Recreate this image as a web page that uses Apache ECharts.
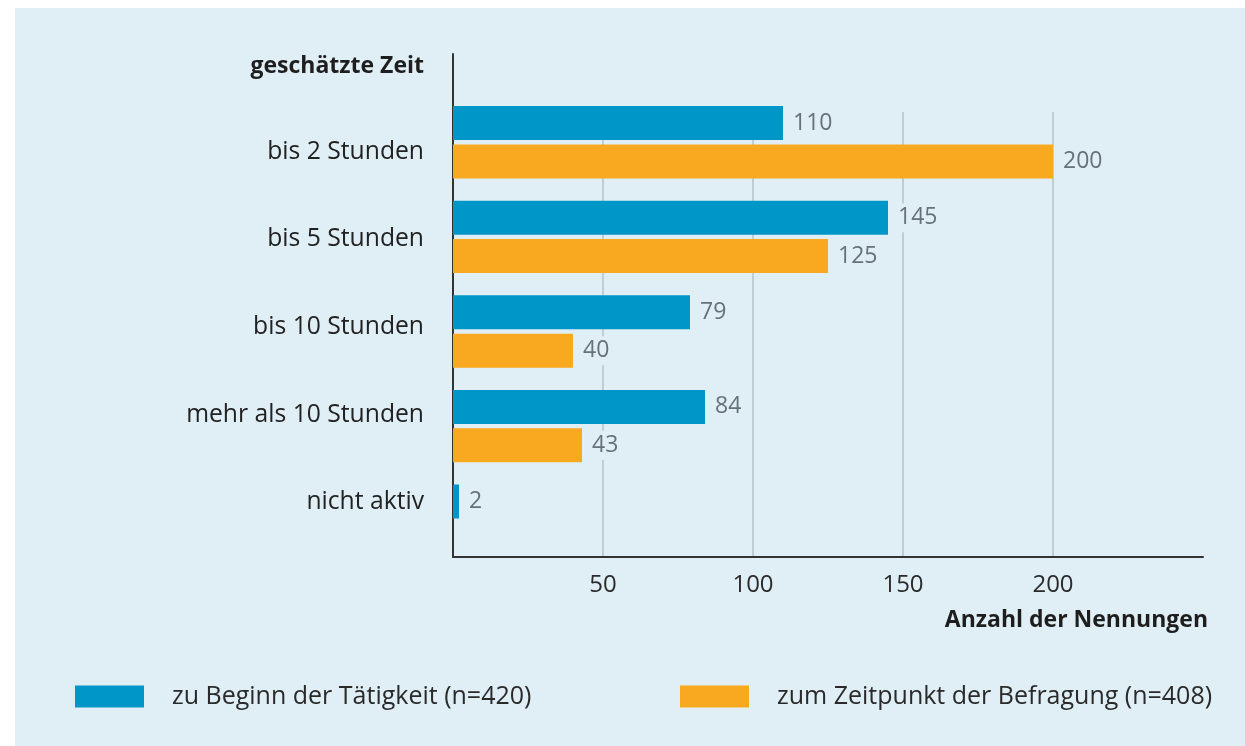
<!DOCTYPE html>
<html>
<head>
<meta charset="utf-8">
<script src="https://cdn.jsdelivr.net/npm/echarts@6/dist/echarts.min.js"></script>
<style>
html,body{margin:0;padding:0;background:#ffffff;}
#bg{position:absolute;left:15px;top:8px;width:1230px;height:738px;background:#e0eff6;}
#chart{position:absolute;left:0;top:0;width:1245px;height:746px;}
</style>
</head>
<body>
<div id="bg"></div>
<div id="chart"></div>
<script>
const categories = ['bis 2 Stunden', 'bis 5 Stunden', 'bis 10 Stunden', 'mehr als 10 Stunden', 'nicht aktiv'];
const seriesNames = ['zu Beginn der Tätigkeit (n=420)', 'zum Zeitpunkt der Befragung (n=408)'];
const beginnValues = [110, 145, 79, 84, 2];
const befragungValues = [200, 125, 40, 43, null];
const xTicks = [50, 100, 150, 200];
const headerText = 'geschätzte Zeit';
const axisTitle = 'Anzahl der Nennungen';

const BG = '#e0eff6';
const FONT = "'Open Sans', 'Noto Sans', sans-serif";
const BLUE = '#0096c8';
const ORANGE = '#f9a91f';

const chart = echarts.init(document.getElementById('chart'), null, {renderer: 'canvas'});

function barLabel() {
  return {
    show: true, position: 'right', distance: 7,
    fontFamily: FONT, fontSize: 23, color: '#66717a',
    backgroundColor: BG, padding: [3, 3]
  };
}

const option = {
  backgroundColor: 'transparent',
  animation: false,
  textStyle: {fontFamily: FONT},
  title: [
    {text: headerText, right: 816, top: 50,
     textStyle: {fontFamily: FONT, fontSize: 23, fontWeight: 'bold', color: '#1e1e1e'}},
    {text: axisTitle, right: 32, top: 604,
     textStyle: {fontFamily: FONT, fontSize: 23, fontWeight: 'bold', color: '#1e1e1e'}}
  ],
  legend: [
    {data: [seriesNames[0]], left: 70, top: 679, itemWidth: 69, itemHeight: 22, icon: 'rect',
     selectedMode: false,
     textStyle: {fontFamily: FONT, fontSize: 25, color: '#2a2a2a', padding: [0, 0, 0, 23]}},
    {data: [seriesNames[1]], left: 675, top: 679, itemWidth: 69, itemHeight: 22, icon: 'rect',
     selectedMode: false,
     textStyle: {fontFamily: FONT, fontSize: 25, color: '#2a2a2a', padding: [0, 0, 0, 23]}}
  ],
  grid: [
    {left: 453, top: 54, width: 750, height: 503},   // axis lines + tick labels
    {left: 453, top: 112, width: 750, height: 445},  // split lines
    {left: 453, top: 108, width: 750, height: 438},  // category labels
    {left: 453, top: 95, width: 750, height: 473}    // bars
  ],
  xAxis: [
    {gridIndex: 0, type: 'value', min: 0, max: 250, interval: 50,
     axisLine: {show: true, lineStyle: {color: '#333333', width: 2}},
     axisTick: {show: false}, splitLine: {show: false},
     axisLabel: {show: true, margin: 16, fontFamily: FONT, fontSize: 24, color: '#2a2a2a',
       formatter: v => xTicks.indexOf(v) >= 0 ? String(v) : ''}},
    {gridIndex: 1, type: 'value', min: 0, max: 250, interval: 50,
     axisLine: {show: false}, axisTick: {show: false}, axisLabel: {show: false},
     splitLine: {show: true, showMinLine: false, showMaxLine: false,
       lineStyle: {color: '#b5c2c9', width: 1.5}}},
    {gridIndex: 2, type: 'value', min: 0, max: 250, show: false},
    {gridIndex: 3, type: 'value', min: 0, max: 250, show: false}
  ],
  yAxis: [
    {gridIndex: 0, type: 'category', data: categories, inverse: true,
     axisLine: {show: true, lineStyle: {color: '#333333', width: 2}},
     axisTick: {show: false}, axisLabel: {show: false}, splitLine: {show: false}},
    {gridIndex: 1, type: 'category', data: categories, inverse: true, show: false},
    {gridIndex: 2, type: 'category', data: categories, inverse: true,
     axisLine: {show: false}, axisTick: {show: false}, splitLine: {show: false},
     axisLabel: {show: true, margin: 29, fontFamily: FONT, fontSize: 24.7, color: '#222222'}},
    {gridIndex: 3, type: 'category', data: categories, inverse: true, show: false}
  ],
  series: [
    {name: seriesNames[0], type: 'bar', xAxisIndex: 3, yAxisIndex: 3,
     data: beginnValues, barWidth: 34, barGap: '13%',
     itemStyle: {color: BLUE}, label: barLabel(), z: 3},
    {name: seriesNames[1], type: 'bar', xAxisIndex: 3, yAxisIndex: 3,
     data: befragungValues, barWidth: 34, barGap: '13%',
     itemStyle: {color: ORANGE}, label: barLabel(), z: 3}
  ]
};
chart.setOption(option);
</script>
</body>
</html>
